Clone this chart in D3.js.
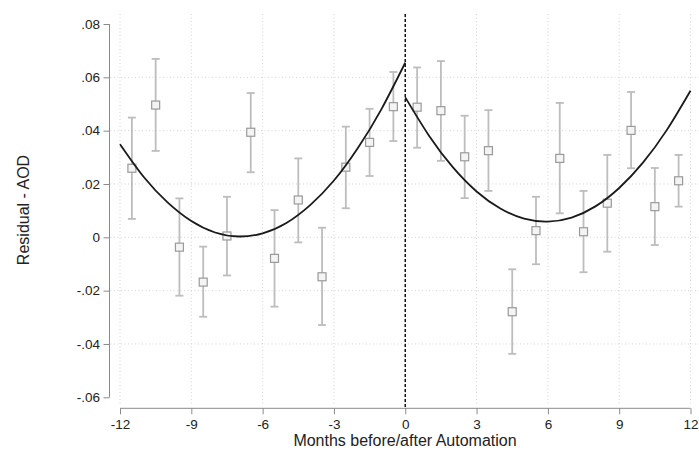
<!DOCTYPE html>
<html>
<head>
<meta charset="utf-8">
<script src="https://cdn.jsdelivr.net/npm/d3@7"></script>
<style>
  body { margin: 0; background: #fff; }
  svg { display: block; font-family: "Liberation Sans", Arial, Helvetica, sans-serif; }
</style>
</head>
<body>
<svg id="chart" width="699" height="457"></svg>
<script>
// months (bin midpoints) and estimates with 95% bounds
const months = [-11.5, -10.5, -9.5, -8.5, -7.5, -6.5, -5.5, -4.5, -3.5, -2.5, -1.5, -0.5,
                0.5, 1.5, 2.5, 3.5, 4.5, 5.5, 6.5, 7.5, 8.5, 9.5, 10.5, 11.5];
const estimate = [0.0259, 0.0496, -0.0037, -0.0168, 0.0005, 0.0394, -0.0079, 0.0140, -0.0148, 0.0263, 0.0356, 0.0490,
                  0.0488, 0.0475, 0.0302, 0.0325, -0.0279, 0.0025, 0.0296, 0.0021, 0.0128, 0.0401, 0.0115, 0.0212];
const upper = [0.0449, 0.0669, 0.0146, -0.0035, 0.0152, 0.0541, 0.0102, 0.0296, 0.0036, 0.0415, 0.0482, 0.0620,
               0.0637, 0.0661, 0.0456, 0.0477, -0.0120, 0.0152, 0.0504, 0.0174, 0.0309, 0.0545, 0.0260, 0.0309];
const lower = [0.0069, 0.0324, -0.0219, -0.0298, -0.0143, 0.0244, -0.0260, -0.0019, -0.0329, 0.0109, 0.0230, 0.0361,
               0.0336, 0.0287, 0.0147, 0.0174, -0.0437, -0.0101, 0.0090, -0.0131, -0.0054, 0.0259, -0.0029, 0.0115];

// fitted curves at whole months
const fitMonthsBefore = [-12, -11, -10, -9, -8, -7, -6, -5, -4, -3, -2, -1, 0];
const fitBefore = [0.0349, 0.0226, 0.0131, 0.0061, 0.0018, 0.0003, 0.0015, 0.0054, 0.0121, 0.0213, 0.0334, 0.0481, 0.0655];
const fitMonthsAfter = [0, 1, 2, 3, 4, 5, 6, 7, 8, 9, 10, 11, 12];
const fitAfter = [0.0525, 0.0381, 0.0263, 0.0172, 0.0108, 0.0070, 0.0059, 0.0074, 0.0116, 0.0185, 0.0280, 0.0402, 0.0550];

const xTicks = [-12, -9, -6, -3, 0, 3, 6, 9, 12];
const yTicks = [-0.06, -0.04, -0.02, 0, 0.02, 0.04, 0.06, 0.08];
const yGrid = [-0.04, -0.02, 0, 0.02, 0.04, 0.06];

const svg = d3.select("#chart");

const x = d3.scaleLinear().domain([-12, 12]).range([120, 690.5]);
const y = d3.scaleLinear().domain([-0.06, 0.08]).range([397.3, 24]);

const plotTop = 14, xAxisY = 408.3, yAxisX = 109.5;

function fmtY(d) {
  if (Math.abs(d) < 1e-9) return "0";
  const s = d3.format(".2f")(Math.abs(d)).replace(/^0/, "");
  return (d < 0 ? "-" : "") + s;
}
function fmtX(d) {
  return (d < 0 ? "-" : "") + Math.abs(d);
}

// gridlines
const grid = svg.append("g")
  .attr("stroke", "#d4d4d4")
  .attr("stroke-width", 1)
  .attr("stroke-dasharray", "1,2.5");
grid.selectAll(".hg").data(yGrid).join("line")
  .attr("x1", yAxisX + 1).attr("x2", 699)
  .attr("y1", d => y(d)).attr("y2", d => y(d));
grid.selectAll(".vg").data(xTicks).join("line")
  .attr("x1", d => x(d)).attr("x2", d => x(d))
  .attr("y1", plotTop).attr("y2", xAxisY - 4);

// y axis
const yAxis = svg.append("g")
  .attr("transform", `translate(${yAxisX},0)`)
  .call(d3.axisLeft(y).tickValues(yTicks).tickFormat(fmtY).tickSize(6).tickPadding(3.5).tickSizeOuter(0));
yAxis.select(".domain").attr("stroke", "#8a8a8a").attr("d", `M0,${y(0.08)}V${y(-0.06)}`);
yAxis.selectAll(".tick line").attr("stroke", "#8a8a8a");
yAxis.selectAll(".tick text").attr("font-size", 13.5).attr("fill", "#222").attr("font-family", null);

// x axis
const xAxis = svg.append("g")
  .attr("transform", `translate(0,${xAxisY})`)
  .call(d3.axisBottom(x).tickValues(xTicks).tickFormat(fmtX).tickSize(6).tickPadding(5).tickSizeOuter(0));
xAxis.select(".domain").attr("stroke", "#8a8a8a").attr("d", `M${x(-12)},0H${x(12)}`);
xAxis.selectAll(".tick line").attr("stroke", "#8a8a8a");
xAxis.selectAll(".tick text").attr("font-size", 13.5).attr("fill", "#222").attr("font-family", null);

// axis titles
svg.append("text")
  .attr("x", 405).attr("y", 446)
  .attr("text-anchor", "middle")
  .attr("font-size", 16).attr("fill", "#222")
  .text("Months before/after Automation");
svg.append("text")
  .attr("transform", "translate(28.5,210) rotate(-90)")
  .attr("text-anchor", "middle")
  .attr("font-size", 16).attr("fill", "#222")
  .text("Residual - AOD");

// error bars
const pts = months.map((m, i) => ({ m, est: estimate[i], hi: upper[i], lo: lower[i] }));
const bars = svg.append("g").attr("stroke", "#bdbdbd").attr("stroke-width", 1.8).attr("fill", "none");
bars.selectAll(".ci").data(pts).join("line")
  .attr("x1", d => x(d.m)).attr("x2", d => x(d.m))
  .attr("y1", d => y(d.hi)).attr("y2", d => y(d.lo));
bars.selectAll(".capHi").data(pts).join("line")
  .attr("x1", d => x(d.m) - 4).attr("x2", d => x(d.m) + 4)
  .attr("y1", d => y(d.hi)).attr("y2", d => y(d.hi));
bars.selectAll(".capLo").data(pts).join("line")
  .attr("x1", d => x(d.m) - 4).attr("x2", d => x(d.m) + 4)
  .attr("y1", d => y(d.lo)).attr("y2", d => y(d.lo));

// markers
svg.append("g").selectAll("rect").data(pts).join("rect")
  .attr("x", d => x(d.m) - 4).attr("y", d => y(d.est) - 4)
  .attr("width", 8).attr("height", 8)
  .attr("fill", "#f4f4f4").attr("stroke", "#9a9a9a").attr("stroke-width", 1.2);

// fitted curves
const line = d3.line().x(d => x(d[0])).y(d => y(d[1])).curve(d3.curveNatural);
svg.append("path")
  .attr("d", line(fitMonthsBefore.map((m, i) => [m, fitBefore[i]])))
  .attr("fill", "none").attr("stroke", "#1a1a1a").attr("stroke-width", 1.8);
svg.append("path")
  .attr("d", line(fitMonthsAfter.map((m, i) => [m, fitAfter[i]])))
  .attr("fill", "none").attr("stroke", "#1a1a1a").attr("stroke-width", 1.8);

// automation date
svg.append("line")
  .attr("x1", x(0)).attr("x2", x(0))
  .attr("y1", plotTop).attr("y2", xAxisY)
  .attr("stroke", "#111").attr("stroke-width", 1.5)
  .attr("stroke-dasharray", "3,2");
</script>
</body>
</html>
